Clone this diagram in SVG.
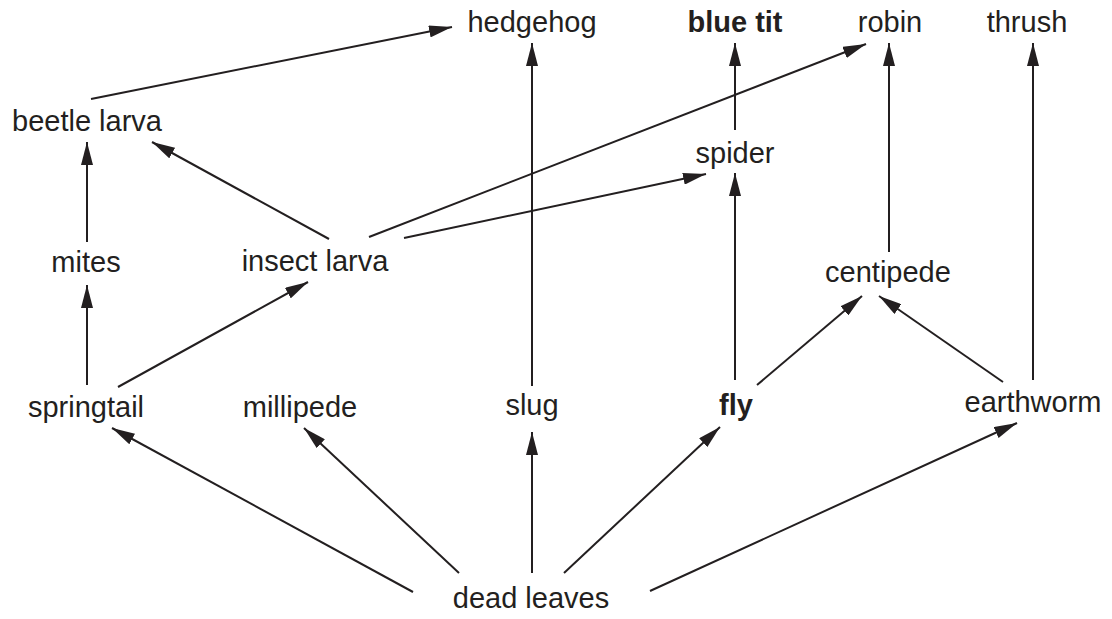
<svg xmlns="http://www.w3.org/2000/svg" width="1112" height="619" viewBox="0 0 1112 619">
<style>
text{font-family:"Liberation Sans",Arial,Helvetica,sans-serif;font-size:29px;fill:#231f20;text-anchor:middle}
.b{font-weight:bold}
#edges line{stroke:#231f20;stroke-width:2;marker-end:url(#ah)}
</style>
<defs>
<marker id="ah" viewBox="0 0 23 12" refX="23" refY="6" markerWidth="23" markerHeight="12" markerUnits="userSpaceOnUse" orient="auto">
<path d="M0,0 L23,6 L0,12 z" fill="#231f20"/>
</marker>
</defs>
<rect width="1112" height="619" fill="#fff"/>
<g id="edges">
<line x1="91" y1="99" x2="452" y2="27"/>
<line x1="532" y1="386" x2="532" y2="43"/>
<line x1="735" y1="130" x2="735" y2="43"/>
<line x1="889" y1="252" x2="889" y2="43"/>
<line x1="1033" y1="380" x2="1033" y2="43"/>
<line x1="369" y1="237" x2="866" y2="44"/>
<line x1="404" y1="238" x2="706" y2="174"/>
<line x1="329" y1="239" x2="152" y2="142"/>
<line x1="87" y1="242" x2="87" y2="142"/>
<line x1="735" y1="380" x2="735" y2="173"/>
<line x1="757" y1="385" x2="862" y2="296"/>
<line x1="1003" y1="382" x2="879" y2="296"/>
<line x1="87" y1="385" x2="87" y2="285"/>
<line x1="118" y1="387" x2="308" y2="282"/>
<line x1="413" y1="592" x2="112" y2="428"/>
<line x1="459" y1="573" x2="304" y2="428"/>
<line x1="532" y1="573" x2="532" y2="432"/>
<line x1="564" y1="573" x2="720" y2="427"/>
<line x1="650" y1="591" x2="1017" y2="423"/>
</g>
<g id="hedgehog"><text x="532" y="32">hedgehog</text></g>
<g id="bluetit"><text class="b" x="735" y="32">blue tit</text></g>
<g id="robin"><text x="890" y="32">robin</text></g>
<g id="thrush"><text x="1027" y="32">thrush</text></g>
<g id="beetlelarva"><text x="87" y="131">beetle larva</text></g>
<g id="spider"><text x="735" y="163">spider</text></g>
<g id="mites"><text x="86" y="272">mites</text></g>
<g id="insectlarva"><text x="315" y="271">insect larva</text></g>
<g id="centipede"><text x="888" y="282">centipede</text></g>
<g id="springtail"><text x="86" y="417">springtail</text></g>
<g id="millipede"><text x="300" y="417">millipede</text></g>
<g id="slug"><text x="532" y="415">slug</text></g>
<g id="fly"><text class="b" x="736" y="415">fly</text></g>
<g id="earthworm"><text x="1033" y="412">earthworm</text></g>
<g id="deadleaves"><text x="531" y="608">dead leaves</text></g>
</svg>
